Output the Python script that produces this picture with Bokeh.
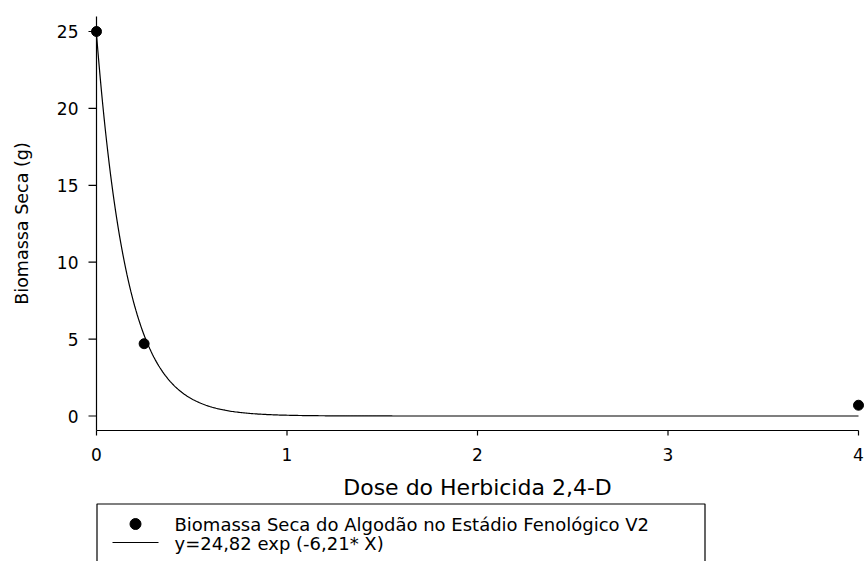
import numpy as np
from bokeh.plotting import figure
from bokeh.models import Range1d
from bokeh.core.properties import value
from bokeh.embed import file_html
from bokeh.resources import INLINE

# ---- data ----
dose = [0.0, 0.25, 4.0]
biomassa = [25.0, 4.7, 0.7]
x_ticks = [0, 1, 2, 3, 4]
x_tick_labels = ["0", "1", "2", "3", "4"]
y_ticks = [0, 5, 10, 15, 20, 25]
y_tick_labels = ["0", "5", "10", "15", "20", "25"]
fit_a = 24.82
fit_b = -6.21
series_label = "Biomassa Seca do Algodão no Estádio Fenológico V2"
fit_label = "y=24,82 exp (-6,21* X)"
x_title = "Dose do Herbicida 2,4-D"
y_title = "Biomassa Seca (g)"

# fitted curve from the equation in the legend
x_fit = np.linspace(x_ticks[0], x_ticks[-1], 600)
y_fit = fit_a * np.exp(fit_b * x_fit)

# ---- layout (pixels) ----
W, H = 865, 561
X0_PX, X4_PX = 96.0, 858.0          # pixel of x=0 and x=4
Y0_PX, Y25_PX = 415.5, 31.0         # pixel of y=0 and y=25
XS = (X4_PX - X0_PX) / 4.0
YS = (Y0_PX - Y25_PX) / 25.0


def px2x(px):
    return (px - X0_PX) / XS


def px2y(py):
    return (Y0_PX - py) / YS


x_start, x_end = px2x(0), px2x(W)
y_start, y_end = px2y(H), px2y(0)
y_axis_lo = px2y(430.0)   # x axis level / bottom of y axis
y_axis_hi = px2y(16.0)    # top of y axis

FONT = "DejaVu Sans"

p = figure(width=W, height=H,
           x_range=Range1d(x_start, x_end), y_range=Range1d(y_start, y_end),
           x_axis_location=None, y_axis_location=None,
           output_backend="svg", toolbar_location=None,
           min_border=0)
p.outline_line_color = None
p.grid.visible = False
p.background_fill_color = "white"
p.border_fill_color = "white"

# ---- axes drawn in data space ----
p.segment(x0=[x_ticks[0], x_ticks[0]], y0=[y_axis_lo, y_axis_lo],
          x1=[x_ticks[-1], x_ticks[0]], y1=[y_axis_lo, y_axis_hi],
          line_color="black", line_width=1.2)
p.ray(x=x_ticks, y=[y_axis_lo] * len(x_ticks), length=5, length_units="screen",
      angle=-np.pi / 2, line_color="black", line_width=1.2)
p.ray(x=[x_ticks[0]] * len(y_ticks), y=y_ticks, length=8, length_units="screen",
      angle=np.pi, line_color="black", line_width=1.2)
p.text(x=x_ticks, y=[y_axis_lo] * len(x_ticks), text=x_tick_labels,
       text_align="center", text_baseline="middle", y_offset=24,
       text_font=value(FONT), text_font_size="17px", text_color="black")
p.text(x=[x_ticks[0]] * len(y_ticks), y=y_ticks, text=y_tick_labels,
       text_align="right", text_baseline="middle", x_offset=-18,
       text_font=value(FONT), text_font_size="17px", text_color="black")
p.text(x=[(x_ticks[0] + x_ticks[-1]) / 2], y=[y_axis_lo], text=[x_title],
       text_align="center", text_baseline="middle", y_offset=57,
       text_font=value(FONT), text_font_size="22px", text_color="black")
p.text(x=[px2x(21.5)], y=[(y_axis_lo + y_axis_hi) / 2], text=[y_title],
       angle=np.pi / 2, text_align="center", text_baseline="middle",
       text_font=value(FONT), text_font_size="17.5px", text_color="black")

# ---- data ----
p.line(x_fit, y_fit, line_color="black", line_width=1.2)
p.scatter(dose, biomassa, size=10, fill_color="black", line_color="black")

# ---- legend box (below the x axis, cut by the bottom edge) ----
p.quad(left=[px2x(96.5)], right=[px2x(704.5)], top=[px2y(503.5)], bottom=[px2y(580)],
       fill_color="white", line_color="black", line_width=1.2)
p.scatter([px2x(135)], [px2y(523.5)], size=11, fill_color="black", line_color="black")
p.segment(x0=[px2x(112)], y0=[px2y(542)], x1=[px2x(158)], y1=[px2y(542)],
          line_color="black", line_width=1.2)
p.text(x=[px2x(174), px2x(174)], y=[px2y(523.5), px2y(543)],
       text=[series_label, fit_label],
       text_align="left", text_baseline="middle",
       text_font=value(FONT), text_font_size="18px", text_color="black")

open("out.html", "w").write(file_html(p, INLINE))
